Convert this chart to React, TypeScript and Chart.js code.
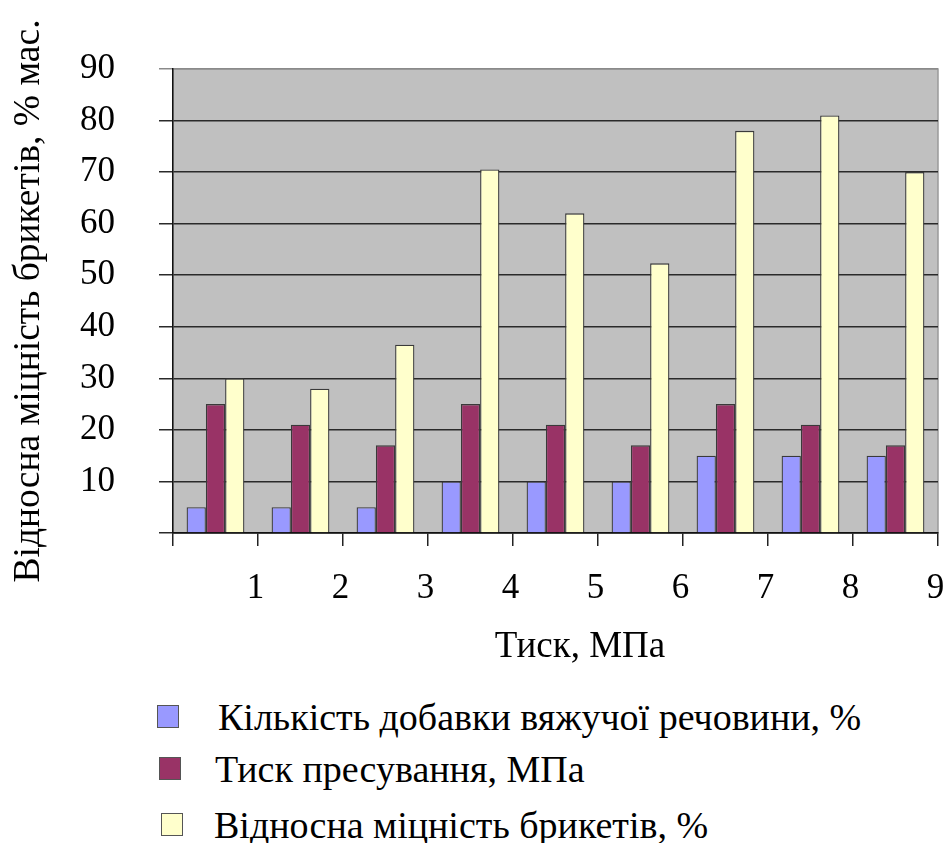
import React, { useEffect, useRef } from "react";
import { Chart, registerables } from "chart.js";

Chart.register(...registerables);

const categories = ["1", "2", "3", "4", "5", "6", "7", "8", "9"];
const binderAmount = [5, 5, 5, 10, 10, 10, 15, 15, 15];
const pressingPressure = [25, 21, 17, 25, 21, 17, 25, 21, 17];
const relativeStrength = [30, 28, 36.5, 70.5, 62, 52.3, 78, 81, 70];
const seriesLabels = [
  "Кількість добавки вяжучої речовини, %",
  "Тиск пресування, МПа",
  "Відносна міцність брикетів, %",
];
const seriesColors = ["#9999FF", "#993366", "#FFFFCC"];
const yTitle = "Відносна міцність брикетів, % мас.";
const xTitle = "Тиск, МПа";
const yTicks = [0, 10, 20, 30, 40, 50, 60, 70, 80, 90];

const FONT = "'Liberation Serif', 'Times New Roman', serif";

const plotBg = {
  id: "plotBg",
  beforeDraw(chart: any) {
    const { ctx, chartArea: a } = chart;
    ctx.save();
    ctx.fillStyle = "#C0C0C0";
    ctx.fillRect(a.left, a.top, a.right - a.left, a.bottom - a.top);
    ctx.strokeStyle = "#9a9a9a";
    ctx.lineWidth = 1.5;
    ctx.strokeRect(a.left, a.top, a.right - a.left, a.bottom - a.top);
    ctx.restore();
  },
};

export default function App() {
  const ref = useRef<HTMLCanvasElement>(null);
  useEffect(() => {
    document.body.style.margin = "0";
    const series = [binderAmount, pressingPressure, relativeStrength];
    const chart = new Chart(ref.current!, {
      type: "bar",
      data: {
        labels: categories,
        datasets: series.map((d, i) => ({
          label: seriesLabels[i],
          data: d,
          backgroundColor: seriesColors[i],
          borderColor: "#3a3a3a",
          borderWidth: 1.3,
          categoryPercentage: 0.68,
          barPercentage: 1,
        })),
      },
      options: {
        responsive: false,
        animation: false,
        layout: { padding: { top: 69, right: 5, bottom: 23, left: 0 } },
        plugins: { legend: { display: false }, tooltip: { enabled: false } },
        scales: {
          x: {
            offset: true,
            grid: {
              offset: true,
              drawOnChartArea: false,
              drawTicks: true,
              tickLength: 13,
              color: "#222",
              lineWidth: 1.5,
            },
            border: { color: "#111", width: 1.5 },
            ticks: {
              color: "#000",
              font: { family: FONT, size: 35 },
              padding: 22,
              labelOffset: 40,
              maxRotation: 0,
              autoSkip: false,
            },
            title: { display: false },
            afterFit(s: any) {
              s.height = 134;
            },
          },
          y: {
            min: 0,
            max: 90,
            afterBuildTicks(s: any) {
              s.ticks = yTicks.map((v) => ({ value: v }));
            },
            grid: {
              color: (c: any) =>
                c.tick && c.tick.value === 90 ? "#8a8a8a" : "#2a2a2a",
              lineWidth: 1.5,
              tickLength: 14,
              drawTicks: true,
            },
            border: { color: "#111", width: 1.5 },
            ticks: {
              color: "#000",
              font: { family: FONT, size: 35 },
              padding: 44,
              callback: (v: any) => (v === 0 ? "" : String(v)),
            },
            title: {
              display: true,
              text: yTitle,
              color: "#000",
              font: { family: FONT, size: 37.5 },
              padding: { top: 7, bottom: 0 },
            },
            afterFit(s: any) {
              s.width = 173;
            },
          },
        },
      },
      plugins: [plotBg],
    });
    return () => chart.destroy();
  }, []);

  const legendTops = [705, 757, 813];
  const textLefts = [218, 215, 214];
  const boxLefts = [157, 159, 161];
  return (
    <div style={{ position: "relative", width: 943, height: 843, background: "#fff" }}>
      <canvas
        ref={ref}
        width={943}
        height={690}
        style={{ position: "absolute", left: 0, top: 0, width: 943, height: 690 }}
      />
      <div
        style={{
          position: "absolute",
          left: 580,
          top: 623,
          transform: "translateX(-50%)",
          fontFamily: FONT,
          fontSize: 37,
          lineHeight: "44px",
          color: "#000",
          whiteSpace: "nowrap",
        }}
      >
        {xTitle}
      </div>
      {seriesLabels.map((lab, i) => (
        <div key={lab}>
          <div
            style={{
              position: "absolute",
              left: boxLefts[i],
              top: legendTops[i],
              width: 20,
              height: 21,
              background: seriesColors[i],
              border: "1.5px solid #555",
            }}
          />
          <div
            style={{
              position: "absolute",
              left: textLefts[i],
              top: legendTops[i] - 11,
              fontFamily: FONT,
              fontSize: 38,
              lineHeight: "46px",
              color: "#000",
              whiteSpace: "nowrap",
            }}
          >
            {lab}
          </div>
        </div>
      ))}
    </div>
  );
}
